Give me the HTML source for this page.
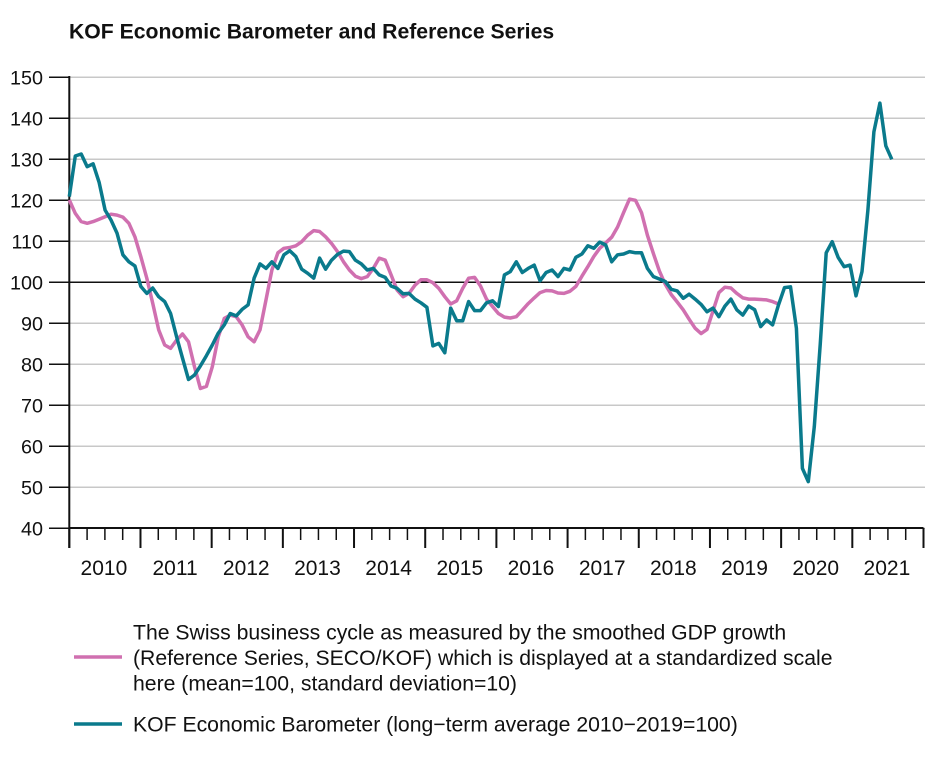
<!DOCTYPE html>
<html><head><meta charset="utf-8"><style>
body{margin:0;background:#fff;font-family:"Liberation Sans",Arial,sans-serif;}
svg text{font-family:"Liberation Sans",Arial,sans-serif;fill:#111;}
</style></head><body>
<svg id="chart" width="930" height="773" viewBox="0 0 930 773">
<text x="69" y="38.5" font-size="21.2" font-weight="bold">KOF Economic Barometer and Reference Series</text>
<g id="grid"></g><g id="axes"></g><g id="series"></g>
<g>
<line x1="74" y1="657" x2="122" y2="657" stroke="#d070b0" stroke-width="3.5"/>
<text x="133" y="639.5" font-size="21.2"><tspan x="133" y="639.5">The Swiss business cycle as measured by the smoothed GDP growth</tspan><tspan x="133" y="665">(Reference Series, SECO/KOF) which is displayed at a standardized scale</tspan><tspan x="133" y="690.5">here (mean=100, standard deviation=10)</tspan></text>
<line x1="74" y1="724" x2="122" y2="724" stroke="#0a7a8c" stroke-width="3.5"/>
<text x="133" y="731.5" font-size="21.2">KOF Economic Barometer (long−term average 2010−2019=100)</text>
</g>
</svg>
<script>
const yTicks=[40,50,60,70,80,90,100,110,120,130,140,150];
const years=["2010","2011","2012","2013","2014","2015","2016","2017","2018","2019","2020","2021"];
const barometer=[120.9,130.8,131.3,128.2,128.9,124.4,117.6,115.2,112,106.7,105,104,
99,97.3,98.6,96.5,95.3,92.4,86.7,81.5,76.3,77.4,79.6,82.1,
84.7,87.6,89.6,92.4,91.8,93.4,94.5,101,104.5,103.4,105,103.4,
106.7,107.7,106.3,103.2,102.2,101,105.9,103.2,105.4,106.8,107.6,107.5,
105.4,104.5,103,103.4,101.8,101.2,99.1,98.5,97.2,97.3,95.9,95,
93.9,84.5,85.1,82.8,93.7,90.6,90.6,95.3,93.1,93.1,95,95.5,
94.1,101.8,102.6,105,102.4,103.4,104.2,100.4,102.4,103,101.4,103.4,
103,106.1,106.9,108.9,108.3,109.8,109.1,105,106.7,106.9,107.5,107.2,
107.2,103.4,101.4,100.8,100.2,98.3,97.9,96.1,97.1,95.9,94.6,92.8,
93.7,91.6,94.2,95.9,93.3,92,94.2,93.3,89.2,90.8,89.6,94.5,
98.7,98.9,88.8,54.6,51.4,64.8,85.1,107.2,109.9,106.1,103.8,104.2,
96.7,102.6,117.6,136.7,143.7,133.3,130];
const reference=[120.1,116.8,114.8,114.4,114.8,115.4,116,116.6,116.4,115.9,114.4,111.1,
106.3,101,94.9,88.4,84.7,83.9,85.9,87.4,85.5,79.4,74.1,74.6,
79.4,86.7,91.2,92,91.6,89.6,86.7,85.5,88.4,95.7,103,107.2,
108.3,108.5,108.9,109.9,111.5,112.6,112.4,111.1,109.5,107.5,105,103,
101.5,100.9,101.4,103.4,105.9,105.4,101.8,98.1,96.5,97.3,99.3,100.6,
100.6,99.9,98.5,96.5,94.7,95.5,98.5,101,101.2,99.1,95.9,94.1,
92.4,91.5,91.3,91.6,93.2,94.8,96.2,97.5,98,97.9,97.4,97.3,
97.8,99,101.5,103.8,106.3,108.3,109.6,111,113.5,117,120.3,120,
117,111.5,107,102.8,99.5,97,95.2,93.3,91,88.8,87.5,88.5,
93,97.5,98.8,98.6,97.3,96.2,95.9,95.9,95.8,95.7,95.3,94.7];
const NS="http://www.w3.org/2000/svg";
const X0=69.3,X1=923.5,MW=5.96,YEARW=(X1-X0)/12;
function yS(v){return 282.3-(v-100)*4.1;}
function xM(i){return X0+i*MW;}
function mk(tag,attrs,parent){const e=document.createElementNS(NS,tag);for(const k in attrs)e.setAttribute(k,attrs[k]);parent.appendChild(e);return e;}
const grid=document.getElementById('grid'),axes=document.getElementById('axes'),series=document.getElementById('series');
yTicks.forEach(v=>{
 const l=mk('line',{x1:69,x2:925,y1:yS(v),y2:yS(v),stroke:v===100?'#111':'#c8c8c8','stroke-width':1.5},grid);
 
 
 const t=mk('line',{x1:49,x2:69,y1:yS(v),y2:yS(v),stroke:'#111','stroke-width':1.5},axes);
 
 
 const tx=mk('text',{x:43,y:yS(v)+7,'text-anchor':'end','font-size':19.8},axes);
 tx.textContent=v;
 
 
});
const ax=mk('line',{x1:69,x2:X1,y1:528,y2:528,stroke:'#111','stroke-width':2},axes);


const ay=mk('line',{x1:69.3,x2:69.3,y1:76,y2:548,stroke:'#111','stroke-width':2},axes);


for(let q=0;q<=48;q++){
 const x=X0+q*YEARW/4;const big=q%4===0;
 const t=mk('line',{x1:x,x2:x,y1:528,y2:big?548:540,stroke:'#111','stroke-width':big?2:1.5},axes);
 
 
}
years.forEach((y,i)=>{
 const t=mk('text',{x:X0+(i+0.5)*YEARW-1,y:575,'text-anchor':'middle','font-size':21},axes);
 t.textContent=y;
 
 
});
function path(arr,color,name){
 const d=arr.map((v,i)=>(i?'L':'M')+xM(i).toFixed(1)+' '+yS(v).toFixed(1)).join(' ');
 const p=mk('path',{d:d,fill:'none',stroke:color,'stroke-width':3.5,'stroke-linejoin':'round'},series);
 
 
}
path(reference,'#d070b0','reference-series-line');
path(barometer,'#0a7a8c','barometer-line');
</script>
</body></html>
